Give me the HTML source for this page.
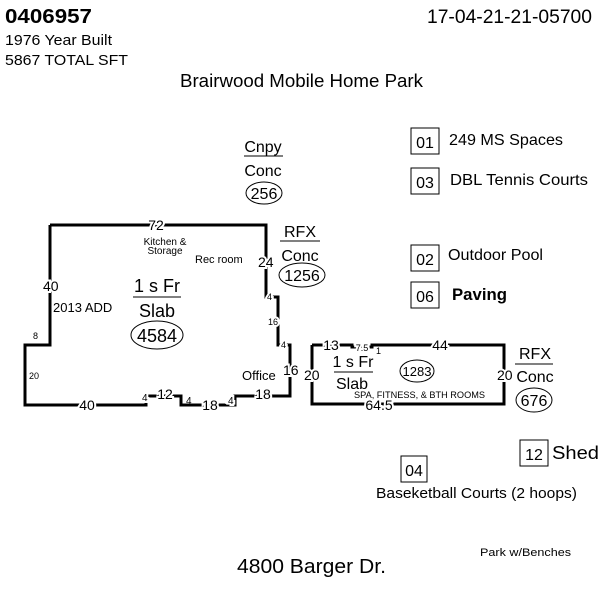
<!DOCTYPE html>
<html><head><meta charset="utf-8"><style>
body{margin:0;background:#fff}
svg{display:block}
text{font-family:"Liberation Sans",Arial,sans-serif;fill:#000}
.d{paint-order:stroke;stroke:#fff;stroke-width:4px}
</style></head><body>
<svg width="600" height="600" viewBox="0 0 600 600" xmlns="http://www.w3.org/2000/svg">
<text x="5" y="23" font-size="20" font-weight="bold" textLength="87" lengthAdjust="spacingAndGlyphs">0406957</text>
<text x="427" y="23" font-size="19" textLength="165" lengthAdjust="spacingAndGlyphs">17-04-21-21-05700</text>
<text x="5" y="45" font-size="15" textLength="107" lengthAdjust="spacingAndGlyphs">1976 Year Built</text>
<text x="5" y="65" font-size="15" textLength="123" lengthAdjust="spacingAndGlyphs">5867 TOTAL SFT</text>
<text x="180" y="87" font-size="18" textLength="243" lengthAdjust="spacingAndGlyphs">Brairwood Mobile Home Park</text>

<g fill="none" stroke="#000" stroke-width="3">
<polyline points="50,225 266,225 266,297 278,297 278,345 290,345 290,396 235,396 235,405 181,405 181,396 146,396 146,405 25,405 25,345 50,345 50,225"/>
<polyline points="312,345 352,345 352,347 372,347 372,345 504,345 504,404 312,404 312,345"/>
</g>
<g fill="none" stroke="#000" stroke-width="1">
<line x1="244" y1="156" x2="283" y2="156"/>
<ellipse cx="264" cy="193" rx="18" ry="11"/>
<line x1="280" y1="241" x2="320" y2="241"/>
<ellipse cx="302" cy="275" rx="23" ry="12"/>
<line x1="133" y1="297" x2="181" y2="297"/>
<ellipse cx="157" cy="335" rx="26" ry="14"/>
<line x1="334" y1="372" x2="373" y2="372"/>
<ellipse cx="417" cy="371" rx="17" ry="11"/>
<line x1="515" y1="364" x2="553" y2="364"/>
<ellipse cx="534" cy="400" rx="18" ry="12"/>
<rect x="411" y="128" width="28" height="26"/>
<rect x="411" y="168" width="28" height="26"/>
<rect x="411" y="245" width="28" height="26"/>
<rect x="411" y="282" width="28" height="26"/>
<rect x="520" y="440" width="28" height="26"/>
<rect x="401" y="456" width="26" height="26"/>
</g>

<g font-size="16" text-anchor="middle">
<text x="263" y="152">Cnpy</text>
<text x="263" y="176">Conc</text>
<text x="264" y="199">256</text>
<text x="300" y="237">RFX</text>
<text x="300" y="261">Conc</text>
<text x="302" y="281">1256</text>
<text x="157" y="292" font-size="18">1 s Fr</text>
<text x="157" y="317" font-size="18">Slab</text>
<text x="157" y="342" font-size="18">4584</text>
<text x="353" y="367">1 s Fr</text>
<text x="352" y="389">Slab</text>
<text x="417" y="376" font-size="13">1283</text>
<text x="535" y="359">RFX</text>
<text x="535" y="382">Conc</text>
<text x="534" y="406">676</text>
</g>

<g font-size="14">
<text class="d" x="156" y="230" text-anchor="middle">72</text>
<text x="165" y="245" font-size="10" text-anchor="middle">Kitchen &amp;</text>
<text x="165" y="254" font-size="10" text-anchor="middle">Storage</text>
<text x="195" y="263" font-size="11">Rec room</text>
<text class="d" x="258" y="267">24</text>
<text class="d" x="43" y="291">40</text>
<text x="53" y="312" font-size="13">2013 ADD</text>
<text x="33" y="339" font-size="9">8</text>
<text x="29" y="379" font-size="9">20</text>
<text class="d" x="87" y="410" text-anchor="middle">40</text>
<text class="d" x="142" y="401" font-size="10">4</text>
<text class="d" x="165" y="399" text-anchor="middle">12</text>
<text x="186" y="404" font-size="10">4</text>
<text class="d" x="210" y="410" text-anchor="middle">18</text>
<text class="d" x="228" y="404" font-size="10">4</text>
<text class="d" x="263" y="399" text-anchor="middle">18</text>
<text x="242" y="380" font-size="13">Office</text>
<text class="d" x="283" y="375">16</text>
<text class="d" x="268" y="325" font-size="9">16</text>
<text class="d" x="267" y="300" font-size="9">4</text>
<text class="d" x="281" y="348" font-size="9">4</text>
<text class="d" x="331" y="350" text-anchor="middle">13</text>
<text class="d" x="362" y="351" font-size="9" text-anchor="middle">7.5</text>
<text x="376" y="354" font-size="9">1</text>
<text class="d" x="440" y="350" text-anchor="middle">44</text>
<text class="d" x="304" y="380">20</text>
<text class="d" x="497" y="380">20</text>
<text x="354" y="398" font-size="9" textLength="131" lengthAdjust="spacingAndGlyphs">SPA, FITNESS, &amp; BTH ROOMS</text>
<text class="d" x="379" y="410" text-anchor="middle">64.5</text>
</g>

<g font-size="16">
<text x="425" y="148" text-anchor="middle">01</text>
<text x="449" y="145" textLength="114" lengthAdjust="spacingAndGlyphs">249 MS Spaces</text>
<text x="425" y="188" text-anchor="middle">03</text>
<text x="450" y="185" textLength="138" lengthAdjust="spacingAndGlyphs">DBL Tennis Courts</text>
<text x="425" y="265" text-anchor="middle">02</text>
<text x="448" y="260" textLength="95" lengthAdjust="spacingAndGlyphs">Outdoor Pool</text>
<text x="425" y="302" text-anchor="middle">06</text>
<text x="452" y="300" font-size="17" font-weight="bold" textLength="55" lengthAdjust="spacingAndGlyphs">Paving</text>
<text x="534" y="460" text-anchor="middle">12</text>
<text x="552" y="459" font-size="18" textLength="47" lengthAdjust="spacingAndGlyphs">Shed</text>
<text x="414" y="476" text-anchor="middle">04</text>
<text x="376" y="498" font-size="15" textLength="201" lengthAdjust="spacingAndGlyphs">Baseketball Courts (2 hoops)</text>
<text x="237" y="573" font-size="20" textLength="149" lengthAdjust="spacingAndGlyphs">4800 Barger Dr.</text>
<text x="480" y="556" font-size="11" textLength="91" lengthAdjust="spacingAndGlyphs">Park w/Benches</text>
</g>
</svg>
</body></html>
